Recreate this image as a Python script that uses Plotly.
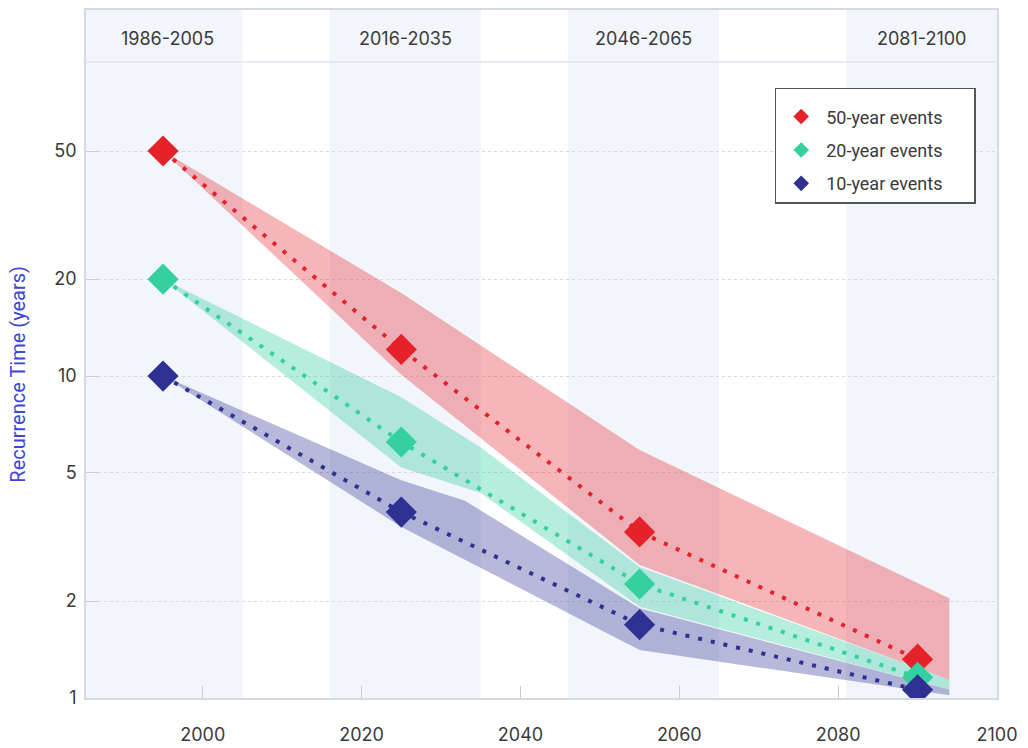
import plotly.graph_objects as go

# ---- data ----
periods = ["1986-2005", "2016-2035", "2046-2065", "2081-2100"]
period_start = [1985.3, 2016, 2046, 2081]
period_end = [2005, 2035, 2065, 2100]
period_mid = [1995.5, 2025.5, 2055.5, 2090.5]

years = [1995, 2025, 2055, 2090]
rt50 = [50, 12.1, 3.28, 1.32]
rt20 = [20, 6.24, 2.26, 1.16]
rt10 = [10, 3.78, 1.69, 1.06]

# uncertainty ranges (upper edge / lower edge)
r50_up_x = [1995, 2025, 2055, 2094]
r50_up = [50, 18.1, 5.89, 2.04]
r50_lo_x = [1995, 2025, 2055, 2094]
r50_lo = [50, 10.1, 2.59, 1.14]

r20_up_x = [1995, 2025, 2035, 2055, 2094]
r20_up = [20, 8.6, 6.0, 2.55, 1.14]
r20_lo_x = [1995, 2025, 2035, 2055, 2094]
r20_lo = [20, 5.2, 4.33, 1.92, 1.06]

r10_up_x = [1995, 2025, 2033, 2055, 2094]
r10_up = [10, 4.75, 4.1, 1.90, 1.06]
r10_lo_x = [1995, 2025, 2055, 2094]
r10_lo = [10, 3.40, 1.41, 1.02]

names = ["50-year events", "20-year events", "10-year events"]
colors = ["#E52229", "#34D0A0", "#2E3192"]
fills = ["rgba(229,34,41,0.33)", "rgba(52,208,160,0.36)", "rgba(46,49,146,0.34)"]

x_ticks = [2000, 2020, 2040, 2060, 2080, 2100]
y_ticks = [1, 2, 5, 10, 20, 50]

TICK_FONT = dict(family="Inter, Lato, sans-serif", size=18, color="#3A3A3A")
PAD = "\u00a0" * 6

fig = go.Figure()

bands = [(r50_up_x, r50_up, r50_lo_x, r50_lo),
         (r20_up_x, r20_up, r20_lo_x, r20_lo),
         (r10_up_x, r10_up, r10_lo_x, r10_lo)]

for (ux, uy, lx, ly), fc in zip(bands, fills):
    fig.add_trace(go.Scatter(
        x=ux + lx[::-1], y=uy + ly[::-1], fill="toself", fillcolor=fc,
        mode="lines", line=dict(width=0), hoverinfo="skip", showlegend=False))

for vals, nm, c in zip([rt50, rt20, rt10], names, colors):
    fig.add_trace(go.Scatter(
        x=years, y=vals, mode="lines", line=dict(color=c, width=4, dash="4px,9px"),
        showlegend=False, hoverinfo="skip"))

for vals, nm, c in zip([rt50, rt20, rt10], names, colors):
    fig.add_trace(go.Scatter(
        x=years, y=vals, mode="markers", name=nm + PAD, legendgroup=nm,
        marker=dict(symbol="diamond", size=24, color=c, line=dict(width=0))))

# period background bands
for s, e in zip(period_start, period_end):
    fig.add_vrect(x0=s, x1=e, fillcolor="#F2F5FA", line_width=0, layer="below")

# header separator line
fig.add_shape(type="line", xref="paper", yref="paper", x0=0, x1=1, y0=0.9244, y1=0.9244,
              line=dict(color="#E1E5EC", width=1.5))

for lab, m in zip(periods, period_mid):
    fig.add_annotation(x=m, y=0.958, xref="x", yref="paper", text=lab, showarrow=False,
                       xanchor="center", yanchor="middle", font=TICK_FONT)

fig.add_annotation(x=-0.0746, y=0.47, xref="paper", yref="paper",
                   text="Recurrence Time (years)", textangle=-90, showarrow=False,
                   xanchor="center", yanchor="middle",
                   font=dict(family="Roboto, sans-serif", size=20, color="#3F45D6"))

fig.update_xaxes(range=[1985.3, 2100], tickvals=x_ticks, ticks="inside", ticklen=12,
                 tickcolor="#C8CCD4", showgrid=False, zeroline=False,
                 showline=True, linecolor="#D5DAE2", linewidth=1.5, mirror=True,
                 ticklabelstandoff=20, automargin=False, tickfont=TICK_FONT)
fig.update_yaxes(type="log", range=[0, 2.137], tickvals=y_ticks,
                 ticktext=[str(v) for v in y_ticks], ticks="inside", ticklen=12,
                 tickcolor="#C8CCD4", showgrid=True, gridcolor="#D6DAE0", griddash="dot",
                 gridwidth=1, zeroline=False, showline=True, linecolor="#D5DAE2",
                 linewidth=1.5, mirror=True, ticklabelstandoff=4, automargin=False,
                 tickfont=TICK_FONT)

fig.update_layout(
    width=1028, height=748,
    margin=dict(l=86, r=31, t=10, b=50),
    plot_bgcolor="white", paper_bgcolor="white",
    legend=dict(x=0.756, y=0.887, xanchor="left", yanchor="top",
                bgcolor="white", bordercolor="#555555", borderwidth=1.5,
                font=dict(family="Roboto, sans-serif", size=18, color="#3A3A3A"),
                itemsizing="constant", tracegroupgap=7, itemwidth=40,
                title=dict(text="\u00a0", font=dict(size=7))),
    showlegend=True,
)

fig.write_html("out.html", config={"displayModeBar": False},
               post_script="document.body.style.margin='0';")
